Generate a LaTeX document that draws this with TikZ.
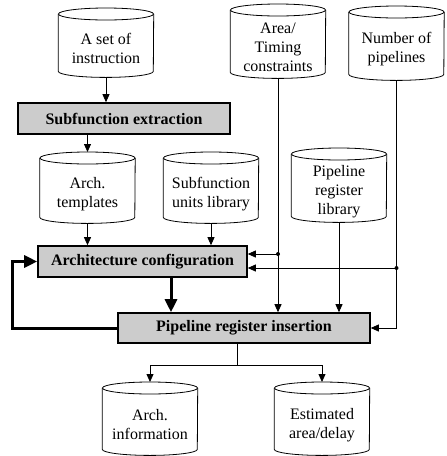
\documentclass[tikz,border=0pt]{standalone}
\usepackage{fontspec}
\setmainfont{Liberation Serif}
\usetikzlibrary{arrows.meta}

\tikzset{
  db/.style={rectangle, anchor=north, minimum width=95pt, inner sep=2pt, align=center},
  dbline/.style={line width=0.8pt},
  stage/.style={draw, line width=1.6pt, fill=black!20, font=\fontsize{16}{19}\selectfont\bfseries, minimum height=31pt, inner sep=0pt},
  flow/.style={line width=0.8pt, -{Triangle[length=8pt,width=7pt]}},
  fat/.style={line width=3pt, -{Triangle[length=13pt,width=12pt]}},
}

\begin{document}
\begin{tikzpicture}[x=1pt, y=1pt, font=\fontsize{16}{19}\selectfont]
	\useasboundingbox (0,0) rectangle (447,-456);
	% inputs and libraries
	\node [db, minimum height=57pt] (inst) at (106,-20) {A set of\\instruction};
	\node [db, minimum height=62pt] (area) at (278,-16) {Area/\\Timing\\constraints};
	\node [db, minimum height=62pt] (npipe) at (396.5,-18) {Number of\\pipelines};
	\node [stage, minimum width=212pt] (sub) at (124,-118.5) {Subfunction extraction};
	\node [db, minimum height=59pt] (tmpl) at (87.5,-164) {Arch.\\templates};
	\node [db, minimum height=59pt] (units) at (211,-164) {Subfunction\\units library};
	\node [db, minimum height=62pt] (preg) at (339,-160) {Pipeline\\register\\library};
	\node [stage, minimum width=209pt] (arch) at (142.5,-261.5) {Architecture configuration};
	\node [stage, minimum width=252pt, minimum height=30pt] (pipe) at (244,-328) {Pipeline register insertion};
	\node [db, minimum height=61pt] (info) at (150,-394) {Arch.\\information};
	\node [db, minimum height=61pt] (est) at (322,-394) {Estimated\\area/delay};

	% cylinder outlines
	\foreach \n in {inst,area,npipe,tmpl,units,preg,info,est}{
		\draw [dbline] ([yshift=6pt]\n.north west) -- ([yshift=6pt]\n.south west)
			arc [start angle=180, end angle=360, x radius=47.5pt, y radius=6pt] -- ([yshift=6pt]\n.north east);
		\draw [dbline] ([yshift=6pt]\n.north) ellipse [x radius=47.5pt, y radius=6pt];
	}

	% connectors
	\draw [flow] (inst.south) -- (inst.south |- sub.north);
	\draw [flow] (tmpl.north |- sub.south) -- ([yshift=12pt]tmpl.north);
	\draw [flow] (tmpl.south) -- (tmpl.south |- arch.north);
	\draw [flow] (units.south) -- (units.south |- arch.north);
	\draw [flow] (area.south) -- (area.south |- pipe.north);
	\draw [flow] (preg.south) -- (preg.south |- pipe.north);
	\draw [flow] (npipe.south) |- (pipe.east);
	\coordinate (ja) at (area.south |- 0,-254);
	\coordinate (jn) at (npipe.south |- 0,-268);
	\draw [flow] (ja) -- (ja -| arch.east);
	\draw [flow] (jn) -- (jn -| arch.east);
	\fill (ja) circle (2pt);
	\fill (jn) circle (2pt);

	% iteration loop
	\draw [fat] ([xshift=28.5pt]arch.south) -- ([xshift=28.5pt]arch.south |- pipe.north);
	\draw [fat] (pipe.west) -- ++(-105,0) |- (arch.west);

	% results
	\coordinate (split) at (237,-365);
	\draw [dbline] (split |- pipe.south) -- (split);
	\draw [flow] (split) -| ([yshift=12pt]info.north);
	\draw [flow] (split) -| ([yshift=12pt]est.north);
\end{tikzpicture}
\end{document}
